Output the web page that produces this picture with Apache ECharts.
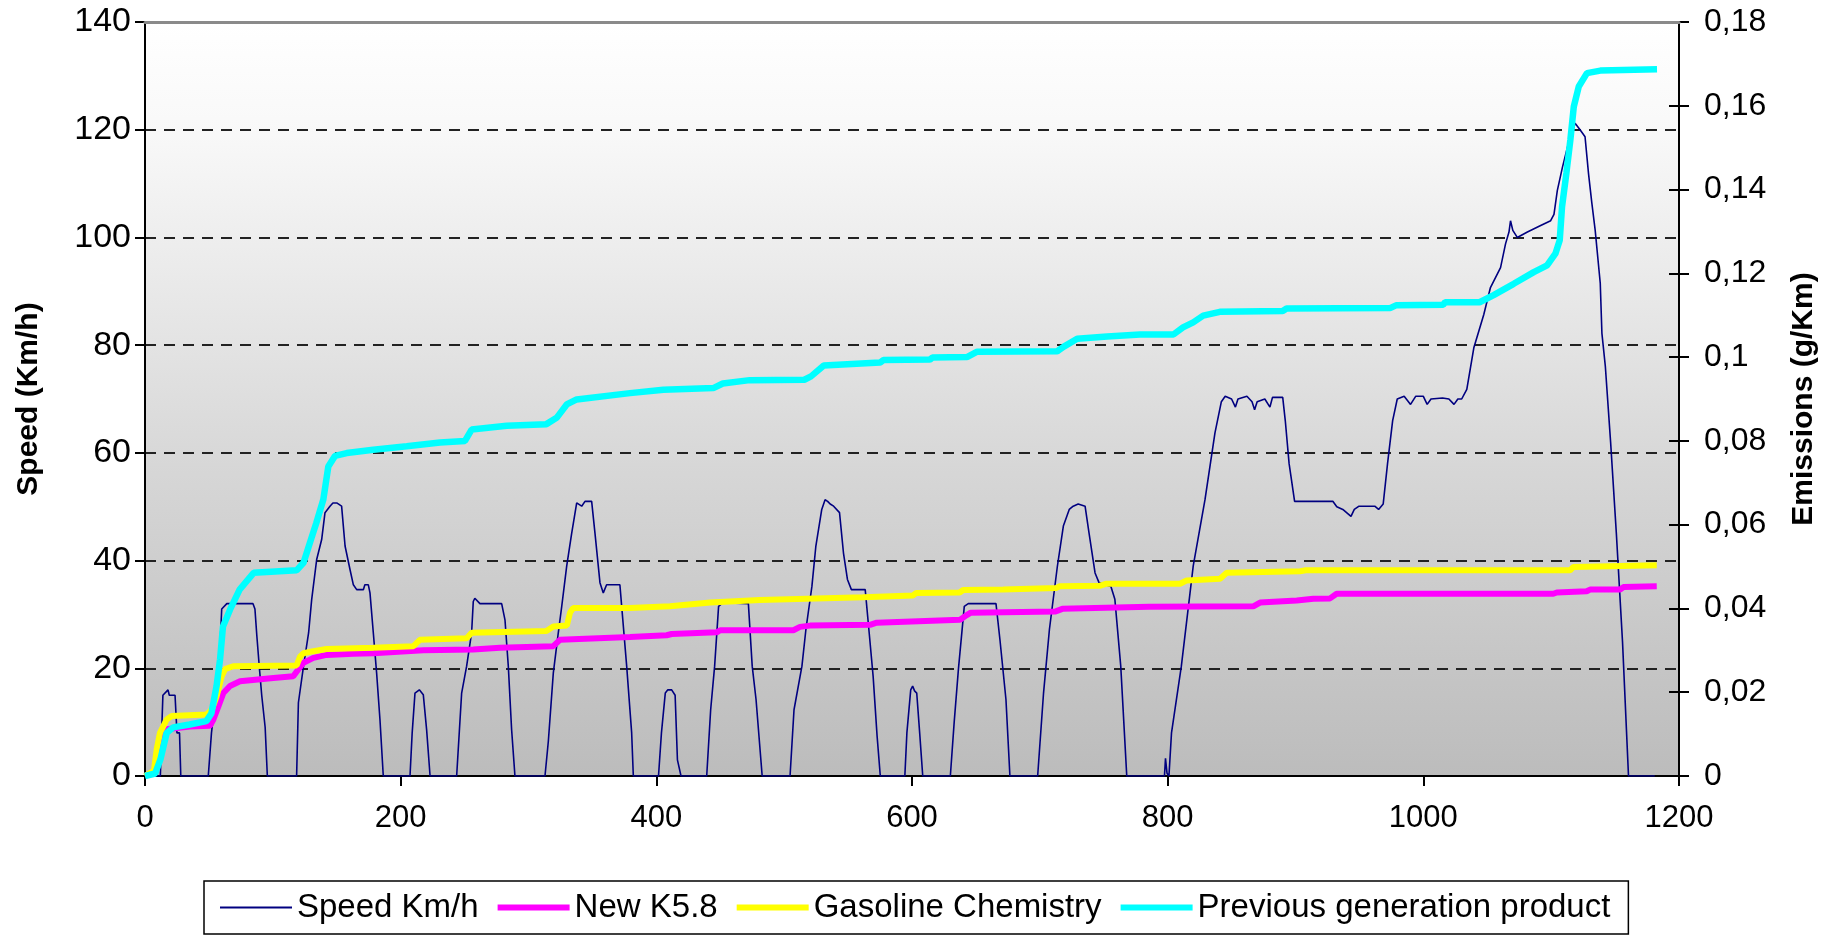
<!DOCTYPE html>
<html>
<head>
<meta charset="utf-8">
<script src="https://cdn.jsdelivr.net/npm/echarts@6/dist/echarts.min.js"></script>
<style>
  html, body { margin: 0; padding: 0; background: #ffffff; }
  #chart { width: 1831px; height: 937px; }
</style>
</head>
<body>
<div id="chart"></div>
<script>
// ---- Data ----
const seriesNames = ['Speed Km/h', 'New K5.8', 'Gasoline Chemistry', 'Previous generation product'];
const xTicks = [0, 200, 400, 600, 800, 1000, 1200];
const speedTicks = [0, 20, 40, 60, 80, 100, 120, 140];
const emissionTicks = [0, 0.02, 0.04, 0.06, 0.08, 0.1, 0.12, 0.14, 0.16, 0.18];

// Speed (km/h) vs time (s)
const speed = [
  [0,0],[12,0],[13,8],[14,15],[18,16],[19,15],[23.5,15],[25,8],[27,8],[28,0],
  [49.5,0],[52,8],[55,14],[58,20],[60,31],[64,32],[69,32],[84.5,32],[86,31],[87.5,26],[89.5,20],[91.3,15],[94,9],[95.7,0],
  [118.6,0],[120,13.6],[124,20.4],[128,26.6],[130.4,32.8],[134.3,40.2],[138.2,43.9],[140.8,48.9],[144.7,50.1],[147,50.7],[150,50.7],[153.8,50.1],[156.5,42.7],[160.4,38.3],[163,35.5],[165.6,34.6],[170.8,34.6],[172,35.5],[174.7,35.5],[176,34],[178.6,26.6],[181.2,19.1],[183.8,10.5],[186.4,0],
  [207.3,0],[209,8],[211.2,15.4],[214.6,16],[217.7,15.1],[220.3,8.6],[223,0],
  [243.8,0],[247.7,15.4],[251.6,20.4],[255.5,26.6],[256.8,32.4],[258,33],[262,32],[279,32],[281.6,29],[284.2,20.4],[286.8,8.6],[289.4,0],
  [312.9,0],[315.5,6.4],[319.4,19.1],[323,26],[326,31.5],[329.9,39],[333.8,45.1],[337.7,50.7],[341.6,50.1],[344.2,51],[349.4,51],[352,45.1],[355.9,35.9],[358.5,34],[361.1,35.5],[371.5,35.5],[372.9,31.5],[376.8,20.4],[380.7,8],[382,0],
  [401.7,0],[404,8],[407,15.4],[409,16],[412,16],[414.7,15],[416.5,3],[419.3,0],
  [439.4,0],[442.5,12.3],[445.6,20.4],[448.7,31.5],[452,32.2],[472,32],[475,20.4],[478,14.2],[482.8,0],
  [504.6,0],[507.7,12.3],[513.9,20.4],[517,27.2],[521.7,35.2],[524.8,42.7],[529.4,49.5],[532,51.3],[534,51],[536,50.5],[538.7,50.1],[543.3,48.9],[546.4,41.4],[549.5,36.5],[552.6,34.6],[563.4,34.6],[566.5,26.6],[569.6,18.5],[572.7,7.4],[575.2,0],
  [594.4,0],[596,8],[599,16],[600.5,16.7],[602,15.8],[603.7,15.4],[606,8],[608.4,0],
  [630,0],[633,10],[636.3,19.8],[640.9,31.5],[644,32],[665.7,32],[668.8,25.3],[673.5,14.2],[676.6,0],
  [698.3,0],[702.9,15.4],[707.5,27.2],[713.7,38.9],[718.4,46.4],[723,49.5],[726.1,50.1],[730,50.5],[735.4,50.1],[738.5,45.1],[743.2,37.7],[746.3,35.9],[755.6,35.2],[758.7,32.8],[763.3,20.4],[768,0],
  [797.5,0],[798.3,3.3],[799.5,0.5],[801,0],[803,8],[810.7,20.4],[820,39],[829.2,51.3],[837,63.7],[842,69.5],[845,70.5],[850,70],[853,68.5],[855,70],[862,70.5],[866,69.5],[868,68],[870,69.5],[876,70],[880,68.5],[882,70.3],[890,70.3],[892,66],[895,58],[899.3,51],
  [929.2,51],[932.3,50],[937,49.5],[943.4,48.2],[946,49.5],[949.7,50.1],[962,50.1],[965,49.5],[968.6,50.5],[972,58],[976,66],[979.6,70],[985,70.5],[990,69],[994,70.5],[1000,70.5],[1003,69],[1006,70],[1015,70.2],[1020,70],[1024,69],[1027,70],[1030,70],
  [1034,71.8],[1039.5,79.5],[1047.3,85.7],[1052.5,90.7],[1060.4,94.4],[1064.3,98.8],[1067,101],[1068.2,103.1],[1070,101.3],[1073.5,100],[1081.4,101],[1091.8,102.2],[1099.6,103.1],[1102.2,104.3],[1104.8,108.7],[1108.8,113],[1113,117],[1118.7,121.2],[1122.6,120],[1126.5,118.7],[1129.2,111.9],[1131.8,106.4],[1134.4,101.4],[1138.4,91.5],[1139.7,82.2],[1142.4,76],[1146.5,62],[1151,45],[1155.8,25],[1160.5,0],[1181,0]
];

// Cumulative emissions (g/Km) vs time (s)
const newK58 = [
  [0,0],[9,0.0013],[12,0.0071],[15,0.0111],[35.2,0.0118],[50.8,0.0120],[53.5,0.0135],[57.4,0.0166],[61.3,0.0198],[66.5,0.0215],[74.3,0.0226],[100.4,0.0234],[116,0.0238],[120,0.0255],[123.9,0.0270],[131.7,0.0282],[142,0.0289],[163,0.0292],[178.6,0.0293],[217.7,0.0300],[256.8,0.0302],[277.7,0.0306],[319.4,0.0310],[324.6,0.0325],[379.4,0.0332],[408.1,0.0336],[412,0.0339],[447.2,0.0343],[450,0.0348],[507.2,0.0348],[512.4,0.0356],[520.2,0.0359],[567.2,0.0361],[572.4,0.0366],[637.6,0.0373],[642.8,0.0384],[646,0.0390],[712.4,0.0393],[717.6,0.0399],[785.4,0.0404],[867,0.0405],[872.3,0.0414],[901,0.0419],[914,0.0423],[927,0.0424],[932.2,0.0435],[1101.7,0.0435],[1104.4,0.0438],[1127.8,0.0441],[1130.4,0.0445],[1153.9,0.0445],[1156.5,0.0451],[1182.6,0.0453]
];
const gasolineChemistry = [
  [0,0],[7,0.0013],[9.1,0.0063],[11.7,0.0103],[17,0.0135],[20.9,0.0143],[48.2,0.0147],[52.2,0.0158],[56,0.0190],[60,0.0238],[62.6,0.0255],[69,0.0262],[118.6,0.0264],[121.3,0.0285],[123.9,0.0293],[131.7,0.0298],[142,0.0303],[178.6,0.0306],[210,0.0310],[215,0.0325],[251.6,0.0329],[255.5,0.0342],[314,0.0346],[319.4,0.0357],[330,0.0359],[332.5,0.0390],[335,0.0401],[379.4,0.0401],[410.7,0.0405],[442.2,0.0414],[481,0.0420],[561.7,0.0427],[600.8,0.0431],[603.4,0.0437],[637.3,0.0438],[640,0.0444],[671.3,0.0445],[713,0.0449],[715.6,0.0453],[746.9,0.0454],[752.1,0.0459],[809.7,0.0459],[814.9,0.0467],[841,0.0471],[846.2,0.0485],[903.6,0.0489],[908,0.0491],[1114.8,0.0491],[1117.4,0.0499],[1182.6,0.0503]
];
const previousGeneration = [
  [0,0],[8,0.0006],[12,0.0039],[17,0.0103],[22,0.0116],[35,0.0123],[48,0.0131],[52,0.0150],[56,0.0215],[58.7,0.0278],[61,0.0357],[66.5,0.0397],[74,0.0445],[85,0.0485],[118.6,0.0491],[124,0.0509],[129,0.0557],[134,0.0604],[139.5,0.0660],[143.4,0.0739],[148.6,0.0764],[157.8,0.0771],[178.6,0.0779],[204.7,0.0787],[230.8,0.0796],[250.3,0.0800],[255.5,0.0827],[283,0.0836],[314,0.0840],[322,0.0855],[329.9,0.0887],[337.7,0.0899],[379.4,0.0914],[405.5,0.0922],[444.6,0.0926],[452,0.0937],[473,0.0945],[515.8,0.0946],[521,0.0954],[531,0.0980],[575,0.0987],[577.6,0.0993],[614,0.0994],[616,0.0999],[643,0.1000],[651,0.1013],[713.6,0.1014],[718.8,0.1025],[729.2,0.1044],[752.7,0.1049],[778.4,0.1054],[804.5,0.1054],[812,0.1071],[820,0.1083],[827.8,0.1099],[840.8,0.1108],[890,0.1110],[893,0.1116],[974,0.1117],[979,0.1124],[1015.5,0.1125],[1017,0.1131],[1044,0.1131],[1055,0.1148],[1070.7,0.1175],[1086.4,0.1203],[1096.8,0.1219],[1103.3,0.1247],[1106.7,0.1279],[1108.5,0.1359],[1111.9,0.1439],[1115,0.1518],[1117.7,0.1598],[1121.6,0.1646],[1128,0.1678],[1138.5,0.1684],[1182.8,0.1687]
];

// ---- Chart ----
const FONT = 'Liberation Sans';
const chart = echarts.init(document.getElementById('chart'), null, { renderer: 'canvas' });

const gridBox = { left: 145, right: 152, top: 22, bottom: 161 };
const plain = function (v) { return String(v); };
const comma = function (v) { return String(Math.round(v * 100) / 100).replace('.', ','); };

const option = {
  backgroundColor: '#ffffff',
  animation: false,
  textStyle: { fontFamily: FONT },
  grid: [
    Object.assign({
      show: true,
      borderWidth: 0,
      backgroundColor: {
        type: 'linear', x: 0, y: 0, x2: 0, y2: 1,
        colorStops: [
          { offset: 0, color: '#ffffff' },
          { offset: 0.15, color: '#f8f8f8' },
          { offset: 0.43, color: '#e3e3e3' },
          { offset: 0.6, color: '#d6d6d6' },
          { offset: 1, color: '#bcbcbc' }
        ]
      }
    }, gridBox),
    Object.assign({ show: false }, gridBox)
  ],
  legend: {
    left: 204, top: 881,
    padding: [10, 18, 10, 15],
    itemGap: 16,
    itemWidth: 72, itemHeight: 14,
    borderColor: '#000000', borderWidth: 1.5,
    backgroundColor: '#ffffff',
    textStyle: { fontFamily: FONT, fontSize: 33, color: '#000000' },
    data: [
      { name: seriesNames[0], lineStyle: { width: 2 }, itemStyle: { opacity: 0 } },
      { name: seriesNames[1], lineStyle: { width: 6 }, itemStyle: { opacity: 0 } },
      { name: seriesNames[2], lineStyle: { width: 6 }, itemStyle: { opacity: 0 } },
      { name: seriesNames[3], lineStyle: { width: 6 }, itemStyle: { opacity: 0 } }
    ]
  },
  xAxis: [
    {
      gridIndex: 0,
      type: 'value', min: xTicks[0], max: xTicks[xTicks.length - 1], interval: xTicks[1] - xTicks[0],
      position: 'bottom',
      axisLine: { show: true, onZero: false, lineStyle: { color: '#000000', width: 2 } },
      axisTick: { show: true, length: 10, lineStyle: { color: '#000000', width: 2 } },
      axisLabel: { fontFamily: FONT, fontSize: 31, color: '#000000', margin: 27, formatter: plain },
      splitLine: { show: false }
    },
    {
      gridIndex: 0, z: 10,
      type: 'value', min: xTicks[0], max: xTicks[xTicks.length - 1],
      position: 'top',
      axisLine: { show: true, onZero: false, lineStyle: { color: '#8a8a8a', width: 3 } },
      axisTick: { show: false }, axisLabel: { show: false }, splitLine: { show: false }
    },
    {
      gridIndex: 1,
      type: 'value', min: xTicks[0], max: xTicks[xTicks.length - 1], show: false
    }
  ],
  yAxis: [
    {
      gridIndex: 0,
      type: 'value', min: speedTicks[0], max: speedTicks[speedTicks.length - 1], interval: 20,
      position: 'left',
      name: 'Speed (Km/h)', nameLocation: 'middle', nameGap: 101,
      nameTextStyle: { fontFamily: FONT, fontSize: 30, fontWeight: 'bold', color: '#000000' },
      axisLine: { show: true, onZero: false, lineStyle: { color: '#000000', width: 2 } },
      axisTick: { show: true, length: 10, lineStyle: { color: '#000000', width: 2 } },
      axisLabel: { fontFamily: FONT, fontSize: 34, color: '#000000', margin: 14, formatter: plain },
      splitLine: { show: true, lineStyle: { color: '#222222', width: 2, type: [11, 8] } }
    },
    {
      gridIndex: 0,
      type: 'value', min: emissionTicks[0], max: emissionTicks[emissionTicks.length - 1], interval: 0.02,
      position: 'right',
      name: 'Emissions (g/Km)', nameLocation: 'middle', nameGap: 110,
      nameTextStyle: { fontFamily: FONT, fontSize: 30, fontWeight: 'bold', color: '#000000' },
      axisLine: { show: true, onZero: false, lineStyle: { color: '#000000', width: 2 } },
      axisTick: { show: true, length: 10, lineStyle: { color: '#000000', width: 2 } },
      axisLabel: { fontFamily: FONT, fontSize: 32, color: '#000000', margin: 25, formatter: comma },
      splitLine: { show: false }
    },
    {
      gridIndex: 1,
      type: 'value', min: emissionTicks[0], max: emissionTicks[emissionTicks.length - 1], interval: 0.02,
      position: 'right',
      axisLine: { show: false, onZero: false },
      axisTick: { show: true, inside: true, length: 10, lineStyle: { color: '#000000', width: 2 } },
      axisLabel: { show: false },
      splitLine: { show: false }
    }
  ],
  series: [
    {
      name: seriesNames[0], type: 'line', xAxisIndex: 0, yAxisIndex: 0,
      data: speed, symbol: 'none', showSymbol: false,
      lineStyle: { color: '#000080', width: 1.6 }, itemStyle: { color: '#000080' }
    },
    {
      name: seriesNames[1], type: 'line', xAxisIndex: 0, yAxisIndex: 1,
      data: newK58, symbol: 'none', showSymbol: false,
      lineStyle: { color: '#ff00ff', width: 6 }, itemStyle: { color: '#ff00ff' }
    },
    {
      name: seriesNames[2], type: 'line', xAxisIndex: 0, yAxisIndex: 1,
      data: gasolineChemistry, symbol: 'none', showSymbol: false,
      lineStyle: { color: '#ffff00', width: 6 }, itemStyle: { color: '#ffff00' }
    },
    {
      name: seriesNames[3], type: 'line', xAxisIndex: 0, yAxisIndex: 1,
      data: previousGeneration, symbol: 'none', showSymbol: false,
      lineStyle: { color: '#00ffff', width: 6.5 }, itemStyle: { color: '#00ffff' }
    }
  ]
};

chart.setOption(option);
</script>
</body>
</html>
